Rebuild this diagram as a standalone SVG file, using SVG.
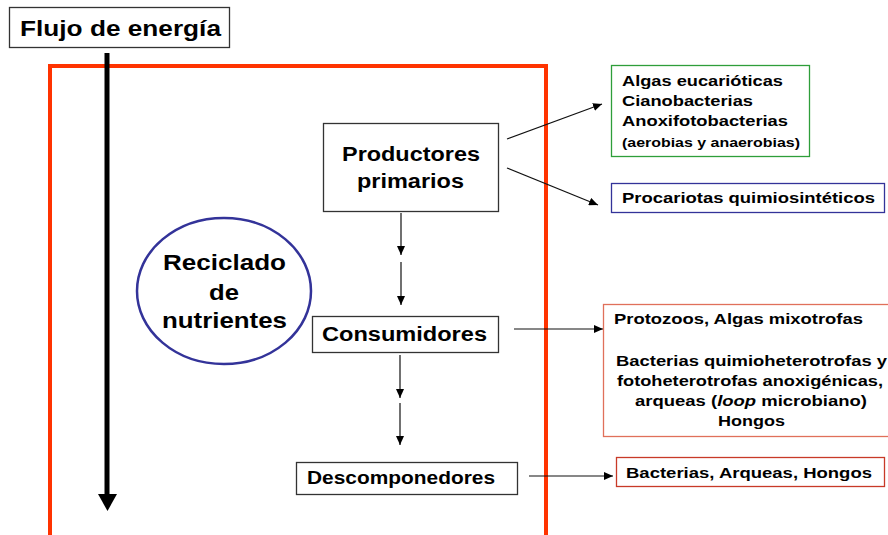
<svg xmlns="http://www.w3.org/2000/svg" width="888" height="535" viewBox="0 0 888 535">
<style>
text{font-family:"Liberation Sans",Arial,sans-serif;font-weight:bold;fill:#000}
.box{fill:#fff;stroke:#333;stroke-width:1.3}
.con{stroke:#111;stroke-width:1.2;fill:none;marker-end:url(#ah)}
</style>
<defs>
<marker id="ah" markerUnits="userSpaceOnUse" markerWidth="10" markerHeight="8" refX="9" refY="4" orient="auto">
<path d="M0,0 L9,4 L0,8 Z" fill="#000"/>
</marker>
</defs>
<rect width="888" height="535" fill="#fff"/>
<g id="marco">
<path d="M50,540 V66 H546 V540" fill="none" stroke="#ff3300" stroke-width="4"/>
</g>
<g id="flujo">
<rect class="box" x="9.5" y="7.5" width="220" height="40"/>
<text x="20" y="36" font-size="21.5" textLength="201" lengthAdjust="spacingAndGlyphs">Flujo de energía</text>
</g>
<g id="flecha-energia">
<line x1="107" y1="53" x2="107" y2="497" stroke="#000" stroke-width="5"/>
<polygon points="98,494 117,494 107.5,511" fill="#000"/>
</g>
<g id="connectors">
<line class="con" x1="507" y1="139" x2="602" y2="104"/>
<line class="con" x1="507" y1="168" x2="598" y2="205"/>
<line class="con" x1="401" y1="213" x2="401" y2="255"/>
<line class="con" x1="401" y1="262" x2="401" y2="305"/>
<line class="con" x1="400" y1="355" x2="400" y2="398"/>
<line class="con" x1="400" y1="403" x2="400" y2="445"/>
<line class="con" x1="514" y1="329" x2="603" y2="329"/>
<line class="con" x1="529" y1="476" x2="613" y2="476"/>
</g>
<g id="reciclado">
<ellipse cx="224" cy="291" rx="87" ry="73" fill="#fff" stroke="#333399" stroke-width="2.5"/>
<text x="163" y="270" font-size="21.5" textLength="123" lengthAdjust="spacingAndGlyphs">Reciclado</text>
<text x="209" y="300" font-size="21.5" textLength="30" lengthAdjust="spacingAndGlyphs">de</text>
<text x="162" y="328" font-size="21.5" textLength="125" lengthAdjust="spacingAndGlyphs">nutrientes</text>
</g>
<g id="productores">
<rect class="box" x="323.5" y="123.5" width="175" height="88"/>
<text x="342" y="161" font-size="20" textLength="138" lengthAdjust="spacingAndGlyphs">Productores</text>
<text x="357" y="188" font-size="20" textLength="107" lengthAdjust="spacingAndGlyphs">primarios</text>
</g>
<g id="consumidores">
<rect class="box" x="312.5" y="316.5" width="186" height="36"/>
<text x="322" y="341" font-size="20" textLength="165" lengthAdjust="spacingAndGlyphs">Consumidores</text>
</g>
<g id="descomponedores">
<rect class="box" x="296.5" y="462.5" width="221" height="32"/>
<text x="307" y="484" font-size="19" textLength="188" lengthAdjust="spacingAndGlyphs">Descomponedores</text>
</g>
<g id="algas">
<rect x="611.5" y="65.5" width="198" height="91" fill="#fff" stroke="#2e9e3a" stroke-width="1.3"/>
<text x="622" y="86" font-size="15.5" textLength="161" lengthAdjust="spacingAndGlyphs">Algas eucarióticas</text>
<text x="622" y="106" font-size="15.5" textLength="131" lengthAdjust="spacingAndGlyphs">Cianobacterias</text>
<text x="622" y="126" font-size="15.5" textLength="166" lengthAdjust="spacingAndGlyphs">Anoxifotobacterias</text>
<text x="622" y="147" font-size="13" textLength="178" lengthAdjust="spacingAndGlyphs">(aerobias y anaerobias)</text>
</g>
<g id="procariotas">
<rect x="611.5" y="183.5" width="273" height="29" fill="#fff" stroke="#333399" stroke-width="1.3"/>
<text x="622" y="203" font-size="15.5" textLength="253" lengthAdjust="spacingAndGlyphs">Procariotas quimiosintéticos</text>
</g>
<g id="consumidores-lista">
<rect x="603.5" y="304.5" width="290" height="132" fill="#fff" stroke="#e0705a" stroke-width="1.3"/>
<text x="614" y="324" font-size="15.5" textLength="249" lengthAdjust="spacingAndGlyphs">Protozoos, Algas mixotrofas</text>
<text x="616" y="366" font-size="15.5" textLength="271" lengthAdjust="spacingAndGlyphs">Bacterias quimioheterotrofas y</text>
<text x="617" y="386" font-size="15.5" textLength="266" lengthAdjust="spacingAndGlyphs">fotoheterotrofas anoxigénicas,</text>
<text x="635" y="406" font-size="15.5" textLength="232" lengthAdjust="spacingAndGlyphs">arqueas (<tspan font-style="italic">loop</tspan> microbiano)</text>
<text x="718" y="426" font-size="15.5" textLength="67" lengthAdjust="spacingAndGlyphs">Hongos</text>
</g>
<g id="descomponedores-lista">
<rect x="616.5" y="457.5" width="268" height="29" fill="#fff" stroke="#c83a28" stroke-width="1.3"/>
<text x="626" y="478" font-size="15.5" textLength="246" lengthAdjust="spacingAndGlyphs">Bacterias, Arqueas, Hongos</text>
</g>
</svg>
